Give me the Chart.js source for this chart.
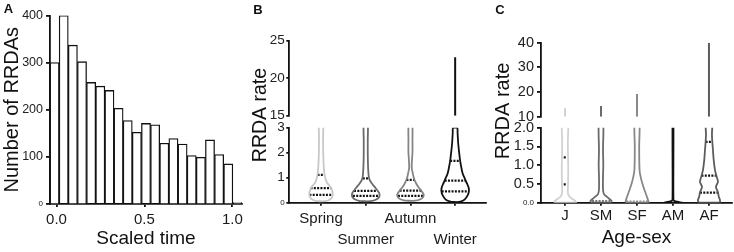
<!DOCTYPE html>
<html>
<head>
<meta charset="utf-8">
<script src="https://cdn.jsdelivr.net/npm/chart.js@4.4.1/dist/chart.umd.min.js"></script>
<style>
  html, body { margin: 0; padding: 0; background: #fff; }
  #page { position: relative; width: 734px; height: 252px; overflow: hidden; }
  canvas { position: absolute; top: 0; }
</style>
</head>
<body>
<div id="page">
  <canvas id="histA" width="250" height="252" style="left:0"></canvas>
  <canvas id="seasonTop" width="250" height="252" style="left:240px"></canvas>
  <canvas id="seasonBottom" width="250" height="252" style="left:240px"></canvas>
  <canvas id="ageTop" width="254" height="252" style="left:480px"></canvas>
  <canvas id="ageBottom" width="254" height="252" style="left:480px"></canvas>
</div>
<script>
// ---- panel A: histogram of RRDAs over scaled time
const binCenters = [-0.011, 0.041, 0.093, 0.145, 0.197, 0.249, 0.301, 0.353, 0.405, 0.457, 0.509,
                    0.561, 0.613, 0.665, 0.717, 0.769, 0.821, 0.873, 0.925, 0.977, 1.029];
const rrdaCounts = [300, 400, 337, 302, 258, 250, 241, 203, 177, 152, 171,
                    168, 129, 139, 127, 103, 99, 136, 105, 85, 3];
const timeTicks = [0, 0.5, 1];
const countTicks = [0, 100, 200, 300, 400];

// ---- panel B: RRDA rate by season (violin profiles, half widths in category units)
const seasons = ['Spring', 'Summer', 'Autumn', 'Winter'];
const springLevels = [0.06, 0.12, 0.22, 0.35, 0.45, 0.57, 0.7, 0.8, 0.95, 1.1, 1.3, 1.6, 2.0, 2.5, 3.2];
const springWidths = [0.09, 0.19, 0.246, 0.262, 0.253, 0.231, 0.179, 0.134, 0.101, 0.081, 0.067, 0.056, 0.049, 0.045, 0.04];
const summerLevels = [0.06, 0.12, 0.2, 0.3, 0.4, 0.5, 0.6, 0.75, 0.9, 1.05, 1.3, 1.6, 2.0, 2.5, 3.2];
const summerWidths = [0.112, 0.224, 0.291, 0.309, 0.296, 0.257, 0.213, 0.146, 0.09, 0.067, 0.056, 0.049, 0.045, 0.045, 0.04];
const autumnLevels = [0.08, 0.14, 0.22, 0.31, 0.4, 0.5, 0.62, 0.75, 0.91, 1.05, 1.2, 1.4, 1.7, 2.0, 2.5, 3.2];
const autumnWidths = [0.112, 0.224, 0.28, 0.298, 0.275, 0.235, 0.179, 0.134, 0.09, 0.067, 0.049, 0.029, 0.034, 0.045, 0.045, 0.036];
const winterLevels = [0.03, 0.1, 0.2, 0.32, 0.45, 0.6, 0.75, 0.88, 1.0, 1.17, 1.4, 1.67, 2.0, 2.4, 2.8, 3.0];
const winterWidths = [0.09, 0.19, 0.246, 0.287, 0.307, 0.302, 0.269, 0.235, 0.208, 0.168, 0.139, 0.112, 0.09, 0.067, 0.054, 0.045];
const seasonQuartiles = [[0.31, 0.58, 1.11], [0.27, 0.47, 0.97], [0.27, 0.48, 0.91], [0.45, 0.88, 1.67]];
const seasonQuartileWidths = [[0.26, 0.235, 0.078], [0.287, 0.262, 0.067], [0.28, 0.242, 0.09], [0.302, 0.235, 0.112]];
const seasonMax = [null, null, null, 22.8];
const seasonLowTicks = [0, 1, 2, 3];
const seasonHighTicks = [15, 20, 25];

// ---- panel C: RRDA rate by age-sex class
const ageGroups = ['J', 'SM', 'SF', 'AM', 'AF'];
const jLevels = [0, 0.05, 0.1, 0.15, 0.22, 0.3, 0.45, 0.7, 1.0, 1.3, 1.6, 2.2];
const jWidths = [0.306, 0.278, 0.208, 0.139, 0.089, 0.078, 0.083, 0.089, 0.089, 0.083, 0.078, 0.075];
const smLevels = [0, 0.05, 0.1, 0.16, 0.23, 0.35, 0.7, 1.0, 1.4, 2.2];
const smWidths = [0.278, 0.292, 0.236, 0.161, 0.083, 0.056, 0.056, 0.064, 0.056, 0.056];
const sfLevels = [0, 0.07, 0.15, 0.25, 0.38, 0.52, 0.65, 0.83, 1.1, 1.5, 2.2];
const sfWidths = [0.319, 0.306, 0.278, 0.242, 0.194, 0.147, 0.111, 0.075, 0.064, 0.061, 0.061];
const amLevels = [0, 0.02, 0.05, 0.1, 2.2];
const amWidths = [0.25, 0.15, 0.035, 0.012, 0.012];
const afLevels = [0, 0.07, 0.16, 0.28, 0.42, 0.56, 0.71, 0.87, 1.14, 1.4, 1.61, 1.8, 2.2];
const afWidths = [0.292, 0.306, 0.272, 0.25, 0.194, 0.25, 0.208, 0.167, 0.131, 0.111, 0.094, 0.083, 0.078];
const ageQuartiles = [[0.49, 1.21], [0.04], [0.03], [], [0.27, 0.72, 1.62]];
const ageQuartileWidths = [[0.035, 0.035], [0.25], [0.3], [], [0.25, 0.208, 0.094]];
const ageMax = [13.4, 14.3, 19.2, null, 40];
const ageLowTicks = [0, 0.5, 1, 1.5, 2];
const ageHighTicks = [10, 20, 30, 40];

// ---- styles
const FONT = "'Liberation Sans', Arial, Helvetica, sans-serif";
const INK = '#111';
const AXIS_W = 1.8;
const seasonColors = ['#c8c8c8', '#6a6a6a', '#858585', '#111111'];
const ageColors = ['#d2d2d2', '#6a6a6a', '#888888', '#111111', '#5c5c5c'];
const ageQuartileInk = [INK, '#777777', '#8c8c8c', INK, INK];

Chart.defaults.font.family = FONT;
Chart.defaults.color = '#1a1a1a';
Chart.defaults.elements.point.radius = 0;
Chart.defaults.elements.point.hoverRadius = 0;

// free text (panel letters, shared titles of broken axes)
const panelText = {
  id: 'panelText',
  afterDraw(chart, args, opts) {
    const ctx = chart.ctx;
    (opts.items || []).forEach(t => {
      ctx.save();
      ctx.translate(t.x, t.y);
      if (t.rotate) ctx.rotate(t.rotate);
      ctx.font = (t.bold ? 'bold ' : '') + t.size + 'px ' + FONT;
      ctx.fillStyle = INK;
      ctx.textAlign = 'center';
      ctx.textBaseline = 'middle';
      ctx.fillText(t.text, 0, 0);
      ctx.restore();
    });
  }
};
Chart.register(panelText);

function fixedTicks(values) {
  return scale => { scale.ticks = values.map(v => ({ value: v })); };
}

function valueAxis(o) {
  return {
    type: 'linear', min: o.min, max: o.max,
    afterBuildTicks: fixedTicks(o.ticks),
    afterFit: s => { s.width = o.width; },
    border: { display: true, color: INK, width: AXIS_W },
    grid: { display: true, drawOnChartArea: false, drawTicks: true, tickLength: o.tickLength, color: INK, lineWidth: AXIS_W },
    ticks: {
      padding: o.padding, color: '#222', autoSkip: false,
      font: ctx => ({ size: ctx.tick && ctx.tick.value === 0 ? 8 : o.fontSize }),
      callback: o.format || (v => String(v))
    },
    title: o.title || { display: false }
  };
}

function groupAxis(o) {
  return {
    type: 'linear', min: o.min, max: o.max, display: o.display !== false, offset: false,
    afterBuildTicks: fixedTicks(o.names.map((n, i) => i + 1)),
    afterFit: s => { s.height = o.height; },
    border: { display: true, color: INK, width: AXIS_W },
    grid: { display: true, drawOnChartArea: false, drawTicks: true, tickLength: 3, color: INK, lineWidth: AXIS_W, offset: false },
    ticks: {
      padding: o.padding, color: '#1a1a1a', autoSkip: false, maxRotation: 0, minRotation: 0,
      font: { size: o.fontSize, lineHeight: o.lineHeight },
      callback: (v, i) => o.label(i)
    },
    title: o.title || { display: false }
  };
}

function violinDatasets(profiles, quartiles, quartileWidths, colors, quartileInk) {
  const sets = [];
  profiles.forEach((p, i) => {
    const c = i + 1;
    const left = p.levels.map((y, k) => ({ x: c - p.widths[k], y: y }));
    const right = p.levels.map((y, k) => ({ x: c + p.widths[k], y: y })).reverse();
    sets.push({ data: left.concat(right, [left[0]]), showLine: true, borderColor: colors[i],
                borderWidth: 1.8, tension: 0.3, fill: false });
    quartiles[i].forEach((q, k) => {
      const w = quartileWidths[i][k];
      sets.push({ data: [{ x: c - w, y: q }, { x: c + w, y: q }], showLine: true,
                  borderColor: quartileInk[i], borderWidth: 2.2, borderDash: [2, 1.3] });
    });
  });
  return sets;
}

function tailDatasets(maxima, floor, colors) {
  const sets = [];
  maxima.forEach((m, i) => {
    if (m === null) return;
    sets.push({ data: [{ x: i + 1, y: floor }, { x: i + 1, y: m }], showLine: true,
                borderColor: colors[i], borderWidth: 2 });
  });
  return sets;
}

const common = {
  animation: false, responsive: false, events: [],
  plugins: { legend: { display: false }, tooltip: { enabled: false } }
};

// ---- A
new Chart(document.getElementById('histA'), {
  type: 'bar',
  data: {
    datasets: [{
      data: binCenters.map((x, i) => ({ x: x, y: rrdaCounts[i] })),
      backgroundColor: '#ffffff', borderColor: INK, borderWidth: 1.3,
      barPercentage: 1, categoryPercentage: 1, borderSkipped: 'bottom'
    }]
  },
  options: Object.assign({}, common, {
    layout: { padding: { top: 15.5, right: 8, bottom: 0, left: 0 } },
    plugins: Object.assign({}, common.plugins, {
      panelText: { items: [{ text: 'A', x: 8.5, y: 9.5, size: 13, bold: true }] }
    }),
    scales: {
      x: {
        type: 'linear', min: -0.037, max: 1.055, offset: false,
        afterBuildTicks: fixedTicks(timeTicks),
        afterFit: s => { s.height = 48; },
        border: { display: true, color: INK, width: AXIS_W },
        grid: { display: true, drawOnChartArea: false, tickLength: 3, color: INK, lineWidth: AXIS_W, offset: false },
        ticks: { padding: 4, autoSkip: false, maxRotation: 0, font: { size: 15 }, callback: v => v.toFixed(1) },
        title: { display: true, text: 'Scaled time', font: { size: 19 }, color: INK, padding: { top: 0, bottom: 1.6 } }
      },
      y: valueAxis({
        min: 0, max: 400, ticks: countTicks, width: 50, tickLength: 4, padding: 3, fontSize: 12.5,
        title: { display: true, text: 'Number of RRDAs', font: { size: 20 }, color: INK, padding: { top: 0, bottom: 0 } }
      })
    }
  })
});

// ---- B (broken y axis: upper and lower parts)
const seasonProfiles = [
  { levels: springLevels, widths: springWidths },
  { levels: summerLevels, widths: summerWidths },
  { levels: autumnLevels, widths: autumnWidths },
  { levels: winterLevels, widths: winterWidths }
];

new Chart(document.getElementById('seasonTop'), {
  type: 'scatter',
  data: { datasets: tailDatasets(seasonMax, seasonHighTicks[0], seasonColors) },
  options: Object.assign({}, common, {
    layout: { padding: { top: 40.7, right: 4, bottom: 136.3, left: 0 } },
    scales: {
      x: groupAxis({ min: 0.29, max: 4.69, names: seasons, display: false, height: 0, label: i => seasons[i] }),
      y: valueAxis({ min: 15, max: 25, ticks: seasonHighTicks, width: 49.3, tickLength: 3, padding: 1.5, fontSize: 13.5 })
    }
  })
});

new Chart(document.getElementById('seasonBottom'), {
  type: 'scatter',
  data: { datasets: violinDatasets(seasonProfiles, seasonQuartiles, seasonQuartileWidths, seasonColors, [INK, INK, INK, INK]) },
  options: Object.assign({}, common, {
    layout: { padding: { top: 127.7, right: 4, bottom: 0, left: 0 } },
    plugins: Object.assign({}, common.plugins, {
      panelText: { items: [
        { text: 'B', x: 18, y: 10, size: 13, bold: true },
        { text: 'RRDA rate', x: 20.7, y: 115, size: 19.5, rotate: -Math.PI / 2 }
      ] }
    }),
    scales: {
      x: groupAxis({
        min: 0.29, max: 4.69, names: seasons, height: 49.3, padding: 2.3, fontSize: 15, lineHeight: 1.433,
        label: i => (i % 2 === 0 ? [seasons[i]] : ['', seasons[i]])
      }),
      y: valueAxis({ min: 0, max: 3, ticks: seasonLowTicks, width: 49.3, tickLength: 3, padding: 1.5, fontSize: 13.5 })
    }
  })
});

// ---- C (broken y axis)
const ageProfiles = [
  { levels: jLevels, widths: jWidths },
  { levels: smLevels, widths: smWidths },
  { levels: sfLevels, widths: sfWidths },
  { levels: amLevels, widths: amWidths },
  { levels: afLevels, widths: afWidths }
];

new Chart(document.getElementById('ageTop'), {
  type: 'scatter',
  data: { datasets: tailDatasets(ageMax, ageHighTicks[0], ageColors) },
  options: Object.assign({}, common, {
    layout: { padding: { top: 42.7, right: 2, bottom: 135.3, left: 0 } },
    scales: {
      x: groupAxis({ min: 0.333, max: 5.64, names: ageGroups, display: false, height: 0, label: i => ageGroups[i] }),
      y: valueAxis({ min: 10, max: 40, ticks: ageHighTicks, width: 61, tickLength: 4, padding: 3, fontSize: 14.5 })
    }
  })
});

new Chart(document.getElementById('ageBottom'), {
  type: 'scatter',
  data: { datasets: violinDatasets(ageProfiles, ageQuartiles, ageQuartileWidths, ageColors, ageQuartileInk) },
  options: Object.assign({}, common, {
    layout: { padding: { top: 127.7, right: 2, bottom: 0, left: 0 } },
    plugins: Object.assign({}, common.plugins, {
      panelText: { items: [
        { text: 'C', x: 20, y: 10, size: 13, bold: true },
        { text: 'RRDA rate', x: 23.3, y: 111, size: 20, rotate: -Math.PI / 2 }
      ] }
    }),
    scales: {
      x: groupAxis({
        min: 0.333, max: 5.64, names: ageGroups, height: 49.3, padding: 0.8, fontSize: 15, lineHeight: 1.2,
        label: i => ageGroups[i],
        title: { display: true, text: 'Age-sex', font: { size: 19 }, color: INK, padding: { top: 0, bottom: 3 } }
      }),
      y: valueAxis({ min: 0, max: 2, ticks: ageLowTicks, width: 61, tickLength: 4, padding: 3, fontSize: 14.5,
                     format: v => v.toFixed(1) })
    }
  })
});
</script>
</body>
</html>
